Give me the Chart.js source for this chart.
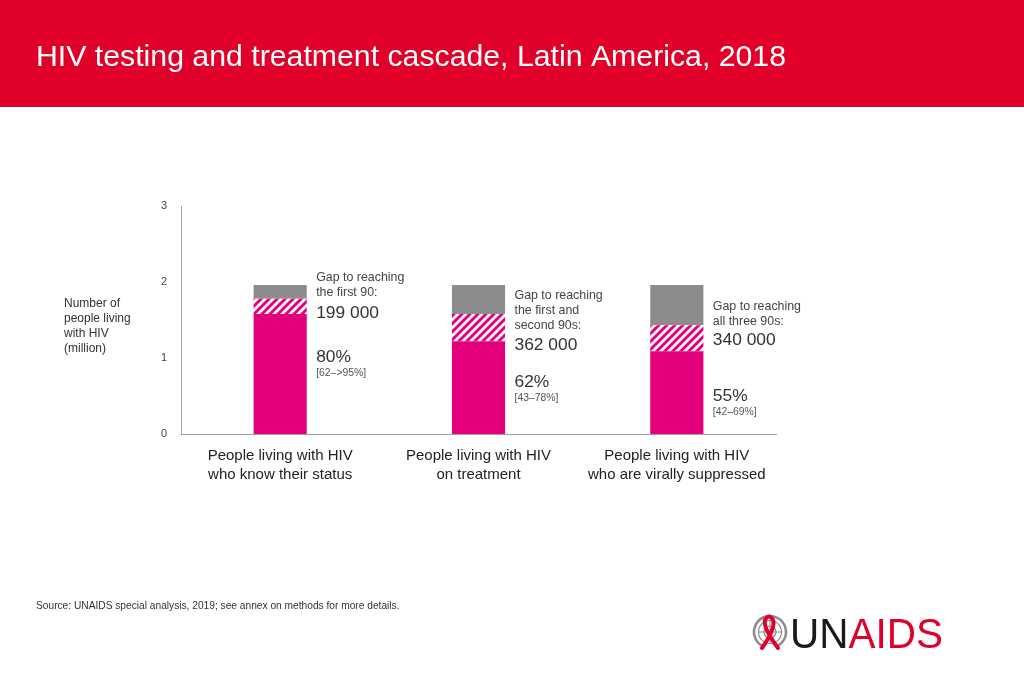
<!DOCTYPE html>
<html>
<head>
<meta charset="utf-8">
<script src="https://cdn.jsdelivr.net/npm/chart.js@4/dist/chart.umd.min.js"></script>
<style>
  html, body { margin: 0; padding: 0; background: #fff; }
  #wrap { position: relative; width: 1024px; height: 683px; overflow: hidden; }
  canvas { display: block; }
</style>
</head>
<body>
<div id="wrap"><canvas id="c" width="1024" height="683"></canvas></div>
<script>
// ---- data ----
const categories = [
  ["People living with HIV", "who know their status"],
  ["People living with HIV", "on treatment"],
  ["People living with HIV", "who are virally suppressed"]
];
const achieved = [1.58, 1.22, 1.09];     // million, solid magenta
const gapTo90 = [0.20, 0.36, 0.34];      // million, hatched
const remainder = [0.18, 0.38, 0.53];    // million, grey
const yTicks = [0, 1, 2, 3];
const gapHeadings = [
  ["Gap to reaching", "the first 90:"],
  ["Gap to reaching", "the first and", "second 90s:"],
  ["Gap to reaching", "all three 90s:"]
];
const gapValues = ["199 000", "362 000", "340 000"];
const pctValues = ["80%", "62%", "55%"];
const pctRanges = ["[62–>95%]", "[43–78%]", "[42–69%]"];
const title = "HIV testing and treatment cascade, Latin America, 2018";
const yTitle = ["Number of", "people living", "with HIV", "(million)"];
const source = "UNAIDS special analysis, 2019; see annex on methods for more details.";

const FONT = "'Liberation Sans', Arial, Helvetica, sans-serif";
const MAGENTA = "#e4007c";
const GREY = "#8c8c8c";

function hatch() {
  const s = 8;
  const p = document.createElement("canvas");
  p.width = s; p.height = s;
  const g = p.getContext("2d");
  g.fillStyle = "#fff";
  g.fillRect(0, 0, s, s);
  g.strokeStyle = MAGENTA;
  g.lineWidth = 3;
  g.beginPath();
  g.moveTo(-2, s + 2); g.lineTo(s + 2, -2);
  g.moveTo(-2, 2); g.lineTo(2, -2);
  g.moveTo(s - 2, s + 2); g.lineTo(s + 2, s - 2);
  g.stroke();
  return document.getElementById("c").getContext("2d").createPattern(p, "repeat");
}

const decor = {
  id: "decor",
  beforeDraw(chart) {
    const ctx = chart.ctx;
    ctx.save();
    ctx.fillStyle = "#fff";
    ctx.fillRect(0, 0, chart.width, chart.height);
    ctx.fillStyle = "#e1002a";
    ctx.fillRect(0, 0, chart.width, 107);
    ctx.fillStyle = "#fff";
    ctx.font = "30px " + FONT;
    ctx.textBaseline = "alphabetic";
    ctx.textAlign = "left";
    const tw = ctx.measureText(title).width;
    ctx.translate(36, 65.5);
    ctx.scale(750 / tw, 1);
    ctx.fillText(title, 0, 0);
    ctx.restore();
  },
  afterDraw(chart) {
    const ctx = chart.ctx;
    const x = chart.scales.x;
    ctx.save();
    ctx.textAlign = "left";
    ctx.textBaseline = "middle";
    // y-axis title
    ctx.fillStyle = "#333";
    ctx.font = "12px " + FONT;
    yTitle.forEach((t, i) => ctx.fillText(t, 64, 304 + i * 15));
    // annotations
    const headTop = [278, 296, 307];
    const valY = [313, 345, 340];
    const pctY = [357, 382, 396];
    for (let i = 0; i < categories.length; i++) {
      const bx = x.getPixelForValue(i) + 36;
      ctx.fillStyle = "#444";
      ctx.font = "12.4px " + FONT;
      gapHeadings[i].forEach((t, j) => ctx.fillText(t, bx, headTop[i] + j * 15));
      ctx.fillStyle = "#333";
      ctx.font = "17.4px " + FONT;
      ctx.fillText(gapValues[i], bx, valY[i]);
      ctx.fillText(pctValues[i], bx, pctY[i]);
      ctx.fillStyle = "#555";
      ctx.font = "10.4px " + FONT;
      ctx.fillText(pctRanges[i], bx, pctY[i] + 16);
    }
    // source
    ctx.fillStyle = "#333";
    ctx.font = "10.2px " + FONT;
    ctx.fillText("Source: " + source, 36, 606);
    // logo emblem
    const cx = 770, cy = 632;
    ctx.strokeStyle = "#8a8a8a";
    ctx.lineWidth = 2.5;
    ctx.beginPath(); ctx.arc(cx, cy, 16, 0.65 * Math.PI, 2.35 * Math.PI); ctx.stroke();
    ctx.lineWidth = 1.2;
    ctx.beginPath(); ctx.arc(cx, cy, 11.5, 0, Math.PI * 2); ctx.stroke();
    ctx.beginPath(); ctx.arc(cx, cy, 6, 0, Math.PI * 2); ctx.stroke();
    ctx.beginPath();
    ctx.moveTo(cx - 11.5, cy); ctx.lineTo(cx + 11.5, cy);
    ctx.moveTo(cx, cy - 11.5); ctx.lineTo(cx, cy + 11.5);
    ctx.stroke();
    ctx.strokeStyle = "#e1002a";
    ctx.lineWidth = 4;
    ctx.lineCap = "round";
    ctx.beginPath();
    ctx.moveTo(cx - 8, cy + 16);
    ctx.quadraticCurveTo(cx + 6, cy - 4, cx + 3, cy - 12);
    ctx.quadraticCurveTo(cx - 1, cy - 19, cx - 5, cy - 12);
    ctx.quadraticCurveTo(cx - 7, cy - 4, cx + 8, cy + 16);
    ctx.stroke();
    // logo text
    ctx.textBaseline = "alphabetic";
    ctx.font = "43px " + FONT;
    const full = ctx.measureText("UNAIDS").width;
    const w = ctx.measureText("UN").width;
    ctx.translate(790, 648);
    ctx.scale(153 / full, 1);
    ctx.fillStyle = "#1a1a1a";
    ctx.fillText("UN", 0, 0);
    ctx.fillStyle = "#e1002a";
    ctx.fillText("AIDS", w, 0);
    ctx.restore();
  }
};

new Chart(document.getElementById("c"), {
  type: "bar",
  data: {
    labels: categories,
    datasets: [
      { data: achieved, backgroundColor: MAGENTA },
      { data: gapTo90, backgroundColor: hatch() },
      { data: remainder, backgroundColor: GREY }
    ]
  },
  options: {
    responsive: false,
    animation: false,
    events: [],
    layout: { padding: { left: 151, right: 248, top: 206, bottom: 189 } },
    plugins: { legend: { display: false }, tooltip: { enabled: false } },
    datasets: { bar: { categoryPercentage: 1, barPercentage: 0.268, borderWidth: 0 } },
    scales: {
      x: {
        stacked: true,
        grid: { display: false, drawTicks: false },
        border: { display: true, color: "#a0a0a0", width: 1 },
        ticks: { color: "#222", font: { family: FONT, size: 15, lineHeight: 1.27 }, padding: 12, maxRotation: 0, autoSkip: false },
        afterFit: s => { s.height = 60; }
      },
      y: {
        stacked: true,
        min: 0, max: 3,
        afterBuildTicks: s => { s.ticks = yTicks.map(v => ({ value: v })); },
        grid: { display: false, drawTicks: false },
        border: { display: true, color: "#a0a0a0", width: 1 },
        ticks: { color: "#444", font: { family: FONT, size: 11 }, padding: 14 },
        afterFit: s => { s.width = 30; }
      }
    }
  },
  plugins: [decor]
});
</script>
</body>
</html>
